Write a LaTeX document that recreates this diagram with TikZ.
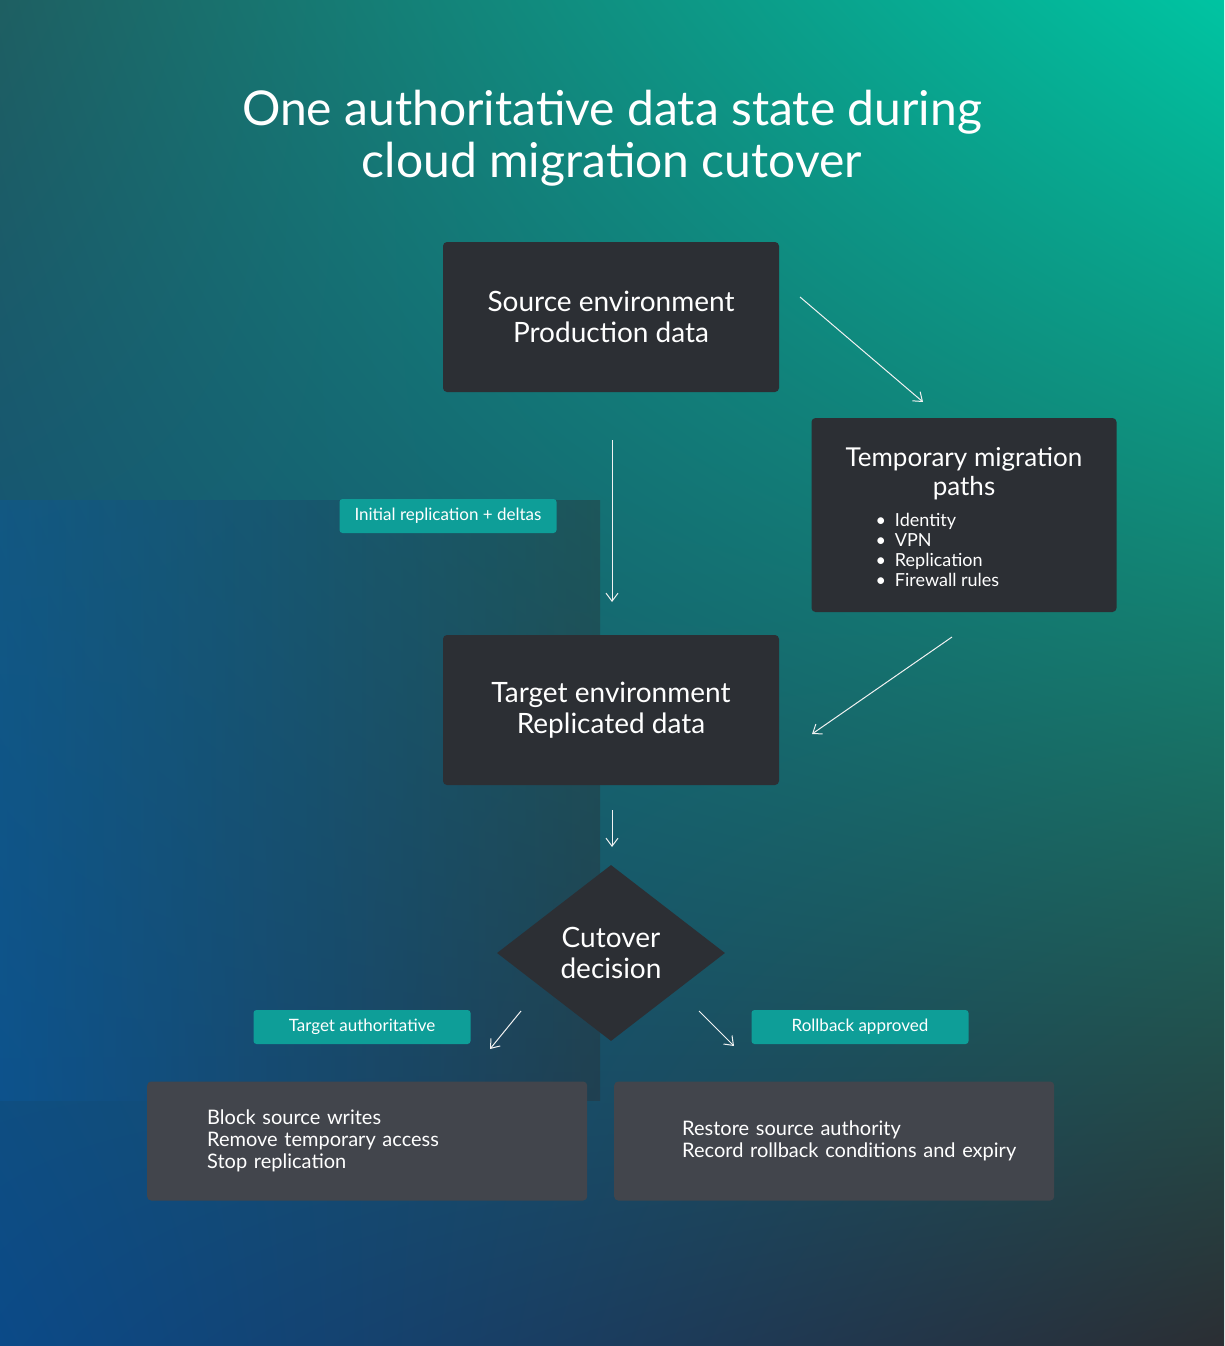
\documentclass[tikz,border=0pt]{standalone}
\usepackage{fontspec}
\setmainfont{Lato}
\usetikzlibrary{shapes.geometric,arrows.meta,shadings}
\definecolor{boxc}{HTML}{2C2F34}
\definecolor{boxl}{HTML}{42454C}
\definecolor{tagc}{HTML}{0E9E98}
\definecolor{cul}{HTML}{1E5F62}
\definecolor{cur}{HTML}{00C4A2}
\definecolor{cll}{HTML}{0B4A88}
\definecolor{clr}{HTML}{2B2E33}
\definecolor{cbl}{HTML}{0B5A9E}
\tikzset{
 box/.style={fill=boxc,rounded corners=4pt,text=white,align=center,font=\fontsize{28}{31}\selectfont},
 low/.style={fill=boxl,rounded corners=4pt,text=white,align=left,font=\fontsize{20}{22}\selectfont,anchor=west,minimum height=119pt,minimum width=440pt,text width=380pt},
 tag/.style={fill=tagc,rounded corners=3pt,text=white,font=\fontsize{17}{19}\selectfont,minimum width=217pt,minimum height=34pt},
 arr/.style={draw=white!90!gray,line width=1pt,-{Straight Barb[length=8pt,width=12pt]}}
}
\begin{document}
\begin{tikzpicture}[x=1pt,y=-1pt]
\useasboundingbox (0,0) rectangle (1224,1346);
\shade[upper left=cul,upper right=cur,lower left=cll,lower right=clr] (0,0) rectangle (1224,1346);
\shade[left color=cbl,right color=cbl!0!clr,opacity=0.4] (0,500) rectangle (600,1100);
\node[text=white,align=center,font=\fontsize{48}{52}\selectfont] (title) at (612,138) {One authoritative data state during\\cloud migration cutover};
\node[box,minimum width=336pt,minimum height=150pt] (src) at (611,317) {Source environment\\Production data};
\node[box,minimum width=305pt,minimum height=194pt] (tmp) at (964,515) {};
\node[text=white,align=center,font=\fontsize{26}{29}\selectfont] (tmpt) at (964,474) {Temporary migration\\paths};
\node[text=white,align=left,anchor=north west,font=\fontsize{18}{20}\selectfont] (tmpl) at (872,510) {\textbullet\enspace Identity\\\textbullet\enspace VPN\\\textbullet\enspace Replication\\\textbullet\enspace Firewall rules};
\node[box,minimum width=336pt,minimum height=150pt] (tgt) at (611,710) {Target environment\\Replicated data};
\node[diamond,fill=boxc,text=white,align=center,minimum width=228pt,minimum height=176pt,inner sep=0pt,font=\fontsize{28}{31}\selectfont] (dec) at (611,953) {Cutover\\decision};
\node[low] (bl) at (147,1141) {\hspace*{30pt}\parbox{350pt}{Block source writes\\Remove temporary access\\Stop replication}};
\node[low] (br) at (614,1141) {\hspace*{38pt}\parbox{380pt}{Restore source authority\\Record rollback conditions and expiry}};
\node[tag] (t1) at (448,516) {Initial replication + deltas};
\node[tag] (t2) at (362,1027) {Target authoritative};
\node[tag] (t3) at (860,1027) {Rollback approved};
\coordinate (a1) at (800,297); \coordinate (a2) at (923,402);
\coordinate (b1) at (612,440); \coordinate (b2) at (612,602);
\coordinate (c1) at (952,637); \coordinate (c2) at (812,734);
\coordinate (d1) at (612,810); \coordinate (d2) at (612,847);
\coordinate (e1) at (521,1011); \coordinate (e2) at (490,1049);
\coordinate (f1) at (699,1011); \coordinate (f2) at (734,1046);
\draw[arr] (a1)--(a2); \draw[arr] (b1)--(b2); \draw[arr] (c1)--(c2);
\draw[arr] (d1)--(d2); \draw[arr] (e1)--(e2); \draw[arr] (f1)--(f2);
\end{tikzpicture}
\end{document}
